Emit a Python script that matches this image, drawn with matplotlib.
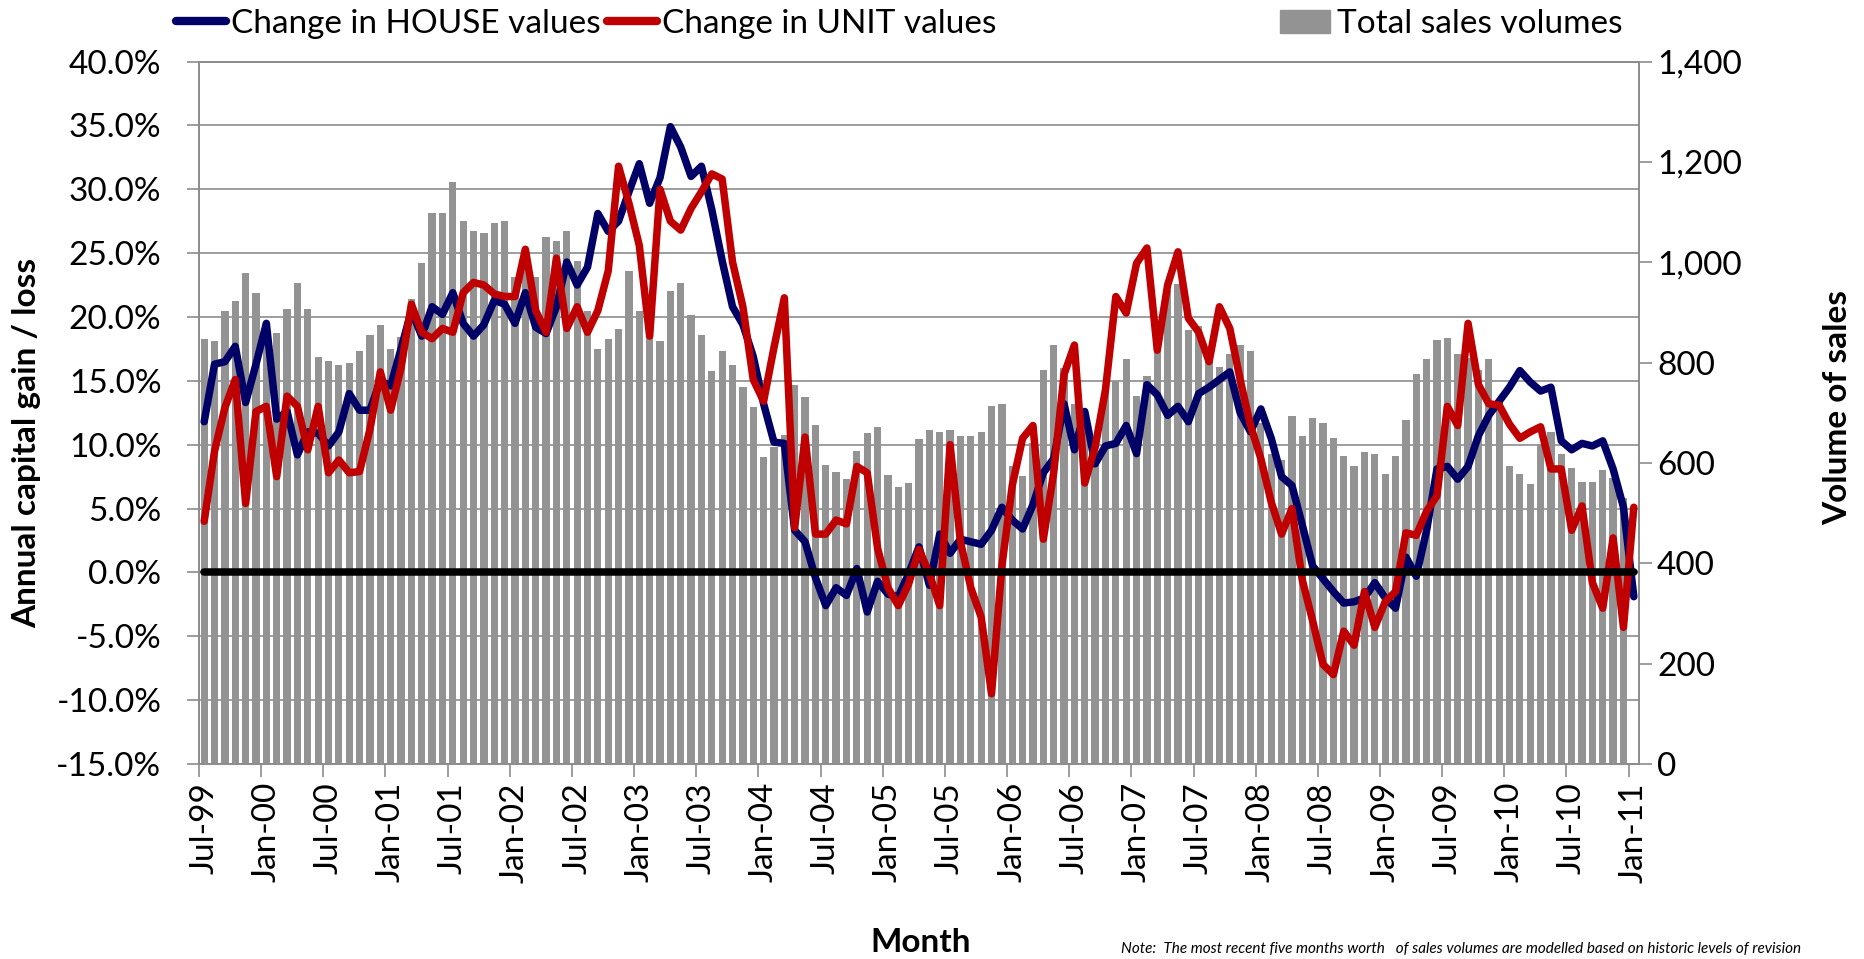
import numpy as np
import matplotlib
matplotlib.use("Agg")
import matplotlib.pyplot as plt
import matplotlib.transforms as mtransforms
from matplotlib.lines import Line2D
from matplotlib.patches import Patch

# monthly series, Jul-99 .. Jan-11 (139 months)
house = [
    11.8, 16.3, 16.5, 17.7, 13.3, 16.3, 19.5, 12.0, 12.6, 9.2,
    11.0, 10.9, 9.9, 11.0, 14.0, 12.7, 12.7, 15.0, 14.6, 17.5,
    20.5, 18.5, 20.8, 20.2, 21.9, 19.5, 18.5, 19.4, 21.3, 21.0,
    19.5, 21.9, 19.2, 18.7, 20.8, 24.3, 22.5, 23.9, 28.1, 26.7,
    27.5, 29.8, 32.0, 28.9, 30.9, 34.9, 33.3, 31.0, 31.8, 28.4,
    24.4, 20.8, 19.4, 16.9, 13.2, 10.2, 10.1, 3.3, 2.4, -0.4,
    -2.6, -1.2, -1.8, 0.3, -3.1, -0.7, -1.7, -1.9, -0.1, 2.0,
    -1.0, 3.0, 1.5, 2.6, 2.4, 2.2, 3.3, 5.1, 4.1, 3.4,
    5.3, 7.8, 8.9, 13.2, 9.6, 12.6, 8.5, 9.9, 10.1, 11.5,
    9.3, 14.7, 13.9, 12.3, 13.0, 11.8, 14.0, 14.5, 15.1, 15.7,
    12.5, 11.0, 12.8, 10.5, 7.5, 6.8, 3.7, 0.5, -0.5, -1.5,
    -2.4, -2.3, -2.0, -0.8, -2.0, -2.8, 1.2, -0.3, 3.3, 8.1,
    8.3, 7.3, 8.3, 10.7, 12.3, 13.4, 14.5, 15.8, 14.9, 14.2,
    14.5, 10.3, 9.6, 10.1, 9.9, 10.3, 8.1, 5.1, -1.9,
]

unit = [
    4.0, 9.5, 12.9, 15.1, 5.4, 12.6, 13.0, 7.5, 13.8, 13.0,
    9.6, 13.0, 7.8, 8.8, 7.8, 7.9, 11.2, 15.7, 12.7, 16.0,
    21.0, 18.8, 18.3, 19.1, 18.8, 21.9, 22.7, 22.5, 21.8, 21.6,
    21.6, 25.3, 20.5, 18.8, 24.6, 19.1, 20.8, 18.8, 20.5, 23.6,
    31.8, 28.9, 25.6, 18.5, 30.0, 27.5, 26.8, 28.5, 29.8, 31.2,
    30.8, 24.3, 20.8, 15.1, 13.4, 17.6, 21.5, 3.5, 10.6, 3.0,
    3.0, 4.1, 3.8, 8.3, 7.8, 1.9, -1.2, -2.6, -0.9, 1.8,
    -0.1, -2.6, 10.0, 2.4, -1.2, -3.5, -9.5, 0.5, 6.8, 10.5,
    11.5, 2.6, 7.8, 15.5, 17.8, 7.0, 9.8, 14.3, 21.6, 20.3,
    24.2, 25.4, 17.4, 22.5, 25.1, 19.9, 18.8, 16.5, 20.8, 19.1,
    15.1, 11.5, 8.9, 5.5, 3.0, 5.0, -0.6, -3.8, -7.2, -8.0,
    -4.6, -5.7, -1.5, -4.3, -2.3, -1.5, 3.1, 2.9, 4.8, 6.0,
    13.0, 11.5, 19.5, 14.7, 13.2, 13.1, 11.6, 10.5, 11.0, 11.4,
    8.1, 8.1, 3.3, 5.2, -0.8, -2.8, 2.7, -4.3, 5.1,
]

sales = [
    847, 842, 903, 923, 978, 938, 880, 858, 906, 958,
    906, 812, 804, 796, 799, 823, 855, 875, 827, 851,
    927, 999, 1099, 1099, 1159, 1082, 1063, 1058, 1078, 1082,
    971, 1020, 971, 1050, 1042, 1063, 1003, 903, 827, 847,
    867, 983, 903, 853, 843, 943, 958, 895, 855, 783,
    823, 796, 752, 711, 612, 632, 656, 756, 732, 676,
    596, 581, 568, 624, 660, 672, 576, 553, 560, 648,
    665, 661, 665, 654, 654, 661, 713, 717, 594, 574,
    640, 785, 836, 790, 717, 705, 610, 750, 764, 808,
    733, 773, 825, 944, 956, 864, 872, 805, 792, 817,
    836, 824, 680, 617, 605, 693, 654, 689, 680, 649,
    614, 594, 622, 617, 577, 614, 685, 777, 808, 844,
    848, 817, 810, 785, 808, 725, 594, 577, 558, 637,
    661, 617, 590, 561, 561, 586, 569, 530, np.nan,
]

month_labels = [
    "Jul-99", "Jan-00", "Jul-00", "Jan-01", "Jul-01", "Jan-02", "Jul-02", "Jan-03",
    "Jul-03", "Jan-04", "Jul-04", "Jan-05", "Jul-05", "Jan-06", "Jul-06", "Jan-07",
    "Jul-07", "Jan-08", "Jul-08", "Jan-09", "Jul-09", "Jan-10", "Jul-10", "Jan-11",
]

pct_ticks = list(range(-15, 41, 5))
vol_ticks = list(range(0, 1401, 200))

NAVY = "#000066"
RED = "#C00000"
BAR = "#939393"
GRID = "#8C8C8C"

plt.rcParams["font.family"] = ["Lato", "DejaVu Sans"]
FS = 24

W, H = 1864, 959
fig = plt.figure(figsize=(W / 100, H / 100), dpi=100)

ax_vol = fig.add_axes([199 / W, 1 - 764 / H, 1440 / W, 702.5 / H])
ax = ax_vol.twinx()

x = np.arange(len(house))

# bars on the volume axis (drawn underneath)
ax_vol.bar(x, sales, width=0.7, color=BAR, zorder=2)

# horizontal gridlines at the percent levels, behind the bars
blend = mtransforms.blended_transform_factory(ax_vol.transAxes, ax.transData)
for p in pct_ticks:
    ax_vol.plot([0, 1], [p, p], transform=blend, color=GRID, lw=1.2, zorder=1)

# lines on the percent axis
ax.plot(x, house, color=NAVY, lw=5.4, solid_capstyle="round", solid_joinstyle="round", zorder=3)
ax.plot(x, unit, color=RED, lw=5.4, solid_capstyle="round", solid_joinstyle="round", zorder=4)
ax.plot([x[0], x[-1]], [0, 0], color="black", lw=5.4, solid_capstyle="round", zorder=5)

ax.set_xlim(-0.5, len(x) - 0.5)
ax_vol.set_xlim(-0.5, len(x) - 0.5)
ax.set_ylim(-15, 40)
ax_vol.set_ylim(0, 1400)

# left axis = percent, right axis = volume
ax.yaxis.tick_left()
ax.yaxis.set_label_position("left")
ax_vol.yaxis.tick_right()
ax_vol.yaxis.set_label_position("right")

ax.set_yticks(pct_ticks)
ax.set_yticklabels([f"{p:.1f}%" for p in pct_ticks])
ax_vol.set_yticks(vol_ticks)
ax_vol.set_yticklabels([f"{v:,}" for v in vol_ticks])

# x: tick marks between categories, labels centred on every 6th month
ax_vol.set_xticks(np.arange(-0.5, len(x), 6))
ax_vol.set_xticklabels([])
ax_vol.set_xticks(np.arange(0, len(x), 6), minor=True)
ax_vol.set_xticklabels(month_labels, minor=True, rotation=90, fontsize=FS)
ax_vol.tick_params(axis="x", which="minor", length=0, pad=13)
ax_vol.tick_params(axis="x", which="major", length=9, width=1.2, color=GRID)
ax.tick_params(axis="x", which="both", bottom=False, labelbottom=False)

ax.tick_params(axis="y", length=9, width=1.2, color=GRID, labelsize=FS, pad=18)
ax_vol.tick_params(axis="y", length=9, width=1.2, color=GRID, labelsize=FS, pad=4)

for a in (ax, ax_vol):
    for s in a.spines.values():
        s.set_color(GRID)
        s.set_linewidth(1.2)

fig.text(27 / W, 1 - 443 / H, "Annual capital gain / loss", rotation=90,
         ha="center", va="center", fontsize=FS, fontweight="bold")
fig.text(1838 / W, 1 - 408 / H, "Volume of sales", rotation=90,
         ha="center", va="center", fontsize=FS, fontweight="bold")
fig.text(921 / W, 1 - 943 / H, "Month", ha="center", va="center",
         fontsize=FS, fontweight="bold")
fig.text(1121 / W, 1 - 956 / H,
         "Note:  The most recent five months worth   of sales volumes are modelled based on historic levels of revision",
         ha="left", va="bottom", fontsize=11, style="italic")

line_handles = [
    Line2D([], [], color=NAVY, lw=6, solid_capstyle="round"),
    Line2D([], [], color=RED, lw=6, solid_capstyle="round"),
]
fig.legend(line_handles, ["Change in HOUSE values", "Change in UNIT values"],
           loc="center left", bbox_to_anchor=(176 / W, 1 - 24 / H), ncol=2,
           frameon=False, fontsize=FS, handlelength=1.5, handletextpad=0.15,
           columnspacing=0.2, borderpad=0, borderaxespad=0)
fig.legend([Patch(color=BAR)], ["Total sales volumes"],
           loc="center left", bbox_to_anchor=(1280 / W, 1 - 24 / H),
           frameon=False, fontsize=FS, handlelength=1.5, handleheight=0.7,
           handletextpad=0.2, borderpad=0, borderaxespad=0)

fig.savefig("out.png", dpi=100)
